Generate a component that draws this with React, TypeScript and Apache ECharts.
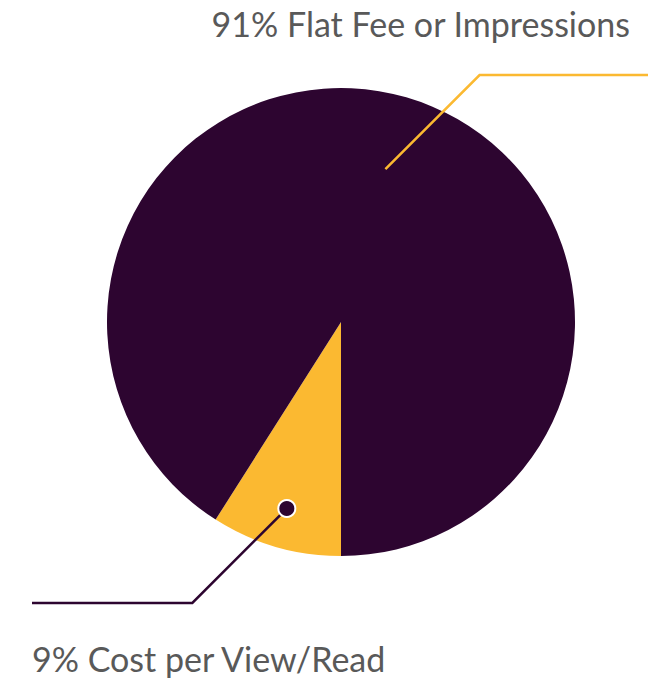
import React, { useEffect, useRef } from "react";
import * as echarts from "echarts";

const categories = ["Cost per View/Read", "Flat Fee or Impressions"];
const values = [9, 91];
const colors = ["#FBB931", "#2D0530"];
const leaderColors = ["#2D0530", "#FBB931"];

const W = 653;
const H = 679;
const CX = 341;
const CY = 322;
const R = 234;
const START = -90;

function midPoint(i: number, frac: number): [number, number] {
  const total = values.reduce((a, b) => a + b, 0);
  let cum = 0;
  for (let k = 0; k < i; k++) cum += values[k];
  const a = ((START - ((cum + values[i] / 2) / total) * 360) * Math.PI) / 180;
  return [CX + Math.cos(a) * R * frac, CY - Math.sin(a) * R * frac];
}

const innerFrac = [0.83, 0.68];
const lineY = [603, 75];
const lineEndX = [32, 648];

function leaderPoints(i: number): number[][] {
  const s = midPoint(i, innerFrac[i]);
  const yL = lineY[i];
  const dir = lineEndX[i] > s[0] ? 1 : -1;
  const ex = s[0] + dir * Math.abs(s[1] - yL);
  return [s, [ex, yL], [lineEndX[i], yL]];
}

export default function App() {
  const ref = useRef<HTMLDivElement>(null);
  useEffect(() => {
    if (!ref.current) return;
    const chart = echarts.init(ref.current, undefined, { renderer: "svg" });
    const dot = midPoint(0, innerFrac[0]);
    chart.setOption({
      animation: false,
      backgroundColor: "#ffffff",
      series: [
        {
          type: "pie",
          center: [CX, CY],
          radius: R,
          startAngle: START,
          clockwise: true,
          silent: true,
          data: categories.map((c, i) => ({
            name: c,
            value: values[i],
            itemStyle: { color: colors[i] },
          })),
          label: {
            show: true,
            position: "outside",
            overflow: "none",
            width: 620,
            formatter: (p: any) => `${p.value}% ${p.name}`,
            fontFamily: "Lato, 'Open Sans', sans-serif",
            fontSize: 34,
            color: "#595959",
          },
          labelLine: { show: false },
          labelLayout: (p: any) => {
            if (p.dataIndex === 1) {
              return { x: 630, y: 23, align: "right", verticalAlign: "middle" };
            }
            return { x: 32, y: 658, align: "left", verticalAlign: "middle" };
          },
        },
      ],
      graphic: [
        ...categories.map((_, i) => ({
          type: "polyline",
          z: 100,
          silent: true,
          shape: { points: leaderPoints(i) },
          style: { stroke: leaderColors[i], lineWidth: 2.5, fill: null },
        })),
        {
          type: "circle",
          z: 101,
          shape: { cx: dot[0], cy: dot[1], r: 8.5 },
          style: { fill: colors[1], stroke: "#ffffff", lineWidth: 2 },
        },
      ],
    });
    return () => chart.dispose();
  }, []);
  return (
    <div
      ref={ref}
      style={{ position: "fixed", left: 0, top: 0, width: W, height: H }}
    />
  );
}
